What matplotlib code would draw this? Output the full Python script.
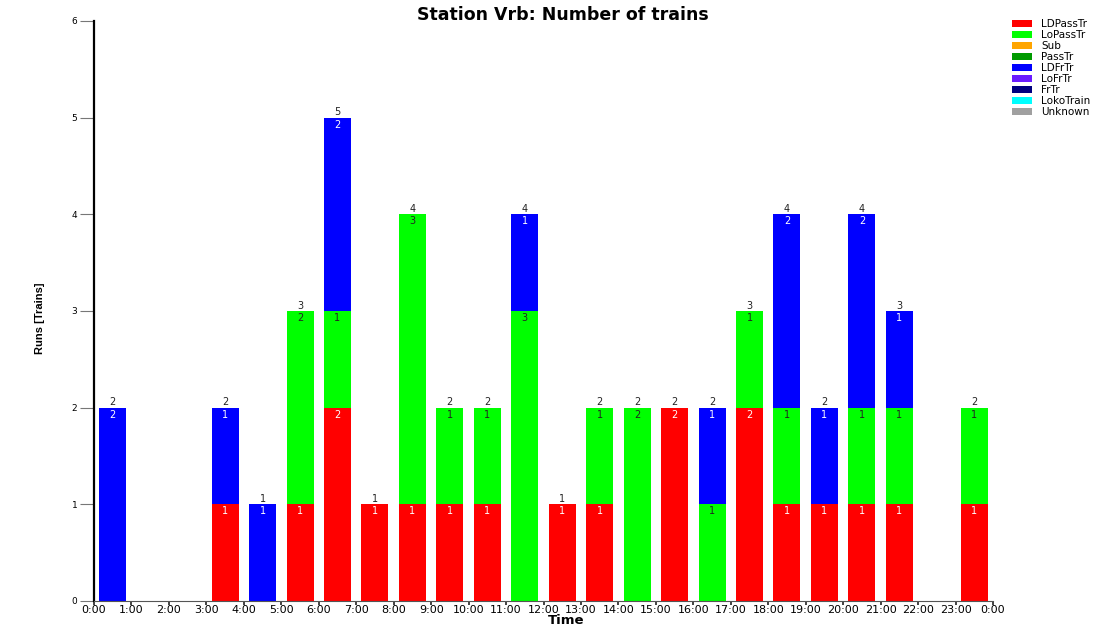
import matplotlib
matplotlib.use("Agg")
import matplotlib.pyplot as plt
import numpy as np
from matplotlib.patches import Patch

hours = list(range(24))
xtick_labels = [f"{h}:00" for h in range(24)] + ["0:00"]

series_names = ["LDPassTr", "LoPassTr", "Sub", "PassTr", "LDFrTr", "LoFrTr", "FrTr", "LokoTrain", "Unknown"]
series_colors = ["#FF0000", "#00FF00", "#FFA500", "#009A00", "#0000FF", "#6A1BFF", "#00007F", "#00FFFF", "#A0A0A0"]
label_colors = ["white", "#222222", "#222222", "white", "white", "white", "white", "#222222", "#222222"]

LDPassTr = [0, 0, 0, 1, 0, 1, 2, 1, 1, 1, 1, 0, 1, 1, 0, 2, 0, 2, 1, 1, 1, 1, 0, 1]
LoPassTr = [0, 0, 0, 0, 0, 2, 1, 0, 3, 1, 1, 3, 0, 1, 2, 0, 1, 1, 1, 0, 1, 1, 0, 1]
Sub = [0] * 24
PassTr = [0] * 24
LDFrTr = [2, 0, 0, 1, 1, 0, 2, 0, 0, 0, 0, 1, 0, 0, 0, 0, 1, 0, 2, 1, 2, 1, 0, 0]
LoFrTr = [0] * 24
FrTr = [0] * 24
LokoTrain = [0] * 24
Unknown = [0] * 24

series_values = [LDPassTr, LoPassTr, Sub, PassTr, LDFrTr, LoFrTr, FrTr, LokoTrain, Unknown]

fig = plt.figure(figsize=(11.15, 6.25), dpi=100)
ax = fig.add_axes([94 / 1115, 1 - 601 / 625, (993 - 94) / 1115, (601 - 21) / 625])

x = np.array(hours) + 0.5
width = 0.72
bottom = np.zeros(24)
for name, color, lc, vals in zip(series_names, series_colors, label_colors, series_values):
    v = np.array(vals, dtype=float)
    ax.bar(x, v, width=width, bottom=bottom, color=color, edgecolor="none", linewidth=0)
    for xi, b, vi in zip(x, bottom, v):
        if vi > 0:
            ax.text(xi, b + vi - 0.02, f"{int(vi)}", ha="center", va="top",
                    fontsize=7, color=lc, family="DejaVu Sans")
    bottom = bottom + v

for xi, t in zip(x, bottom):
    if t > 0:
        ax.text(xi, t + 0.005, f"{int(t)}", ha="center", va="bottom",
                fontsize=7, color="#222222", family="DejaVu Sans")

ax.set_xlim(0, 24)
ax.set_ylim(0, 6)
ax.set_xticks(range(25))
ax.set_xticklabels(xtick_labels, fontsize=8, family="DejaVu Sans")
ax.set_yticks(range(7))
ax.set_yticklabels([str(i) for i in range(7)], fontsize=6.5, family="DejaVu Sans")
ax.tick_params(axis="y", length=10, width=0.8, color="#777777", pad=2)
ax.tick_params(axis="x", length=3, width=1.2, color="#222222", pad=0)
for s in ["top", "right"]:
    ax.spines[s].set_visible(False)
ax.spines["left"].set_linewidth(1.6)
ax.spines["bottom"].set_linewidth(0.8)
ax.spines["bottom"].set_color("#555555")

fig.text(563 / 1115, 1 - 15 / 625, "Station Vrb: Number of trains", ha="center", va="center",
         fontsize=12.5, fontweight="bold", family="DejaVu Sans")
fig.text(566 / 1115, 1 - 620.5 / 625, "Time", ha="center", va="center",
         fontsize=9.5, fontweight="bold", family="DejaVu Sans")
fig.text(40 / 1115, 1 - 318 / 625, "Runs [Trains]", ha="center", va="center", rotation=90,
         fontsize=8, fontweight="bold",
         family=["Liberation Sans Narrow", "Liberation Sans", "DejaVu Sans"])

handles = [Patch(facecolor=c, edgecolor="none") for c in series_colors]
fig.legend(handles, series_names, loc="upper left", bbox_to_anchor=(1012 / 1115, 1 - 19 / 625),
           frameon=False, handlelength=1.9, handleheight=0.7,
           labelspacing=0.1, handletextpad=0.9, borderaxespad=0, borderpad=0,
           prop={"family": "DejaVu Sans", "size": 7.5})

fig.savefig("out.png", dpi=100)
